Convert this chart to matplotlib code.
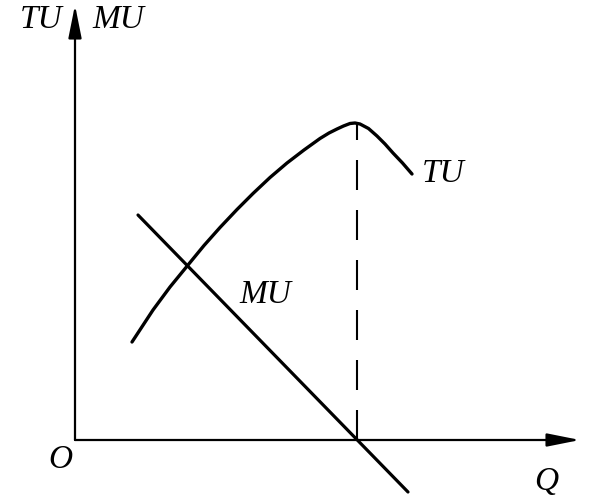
import matplotlib
matplotlib.use("Agg")
import matplotlib.pyplot as plt

# total utility curve (Q, TU)
tu_q = [1.14, 1.56, 1.90, 2.26, 2.58, 2.90, 3.24, 3.56, 3.90, 4.24, 4.58, 4.90, 5.08, 5.24, 5.37, 5.50, 5.60, 5.70, 5.87, 6.04, 6.20, 6.36, 6.55, 6.74]
tu_v = [1.96, 2.60, 3.06, 3.50, 3.89, 4.25, 4.61, 4.93, 5.25, 5.54, 5.80, 6.03, 6.14, 6.22, 6.28, 6.33, 6.34, 6.32, 6.23, 6.08, 5.92, 5.74, 5.54, 5.32]

# marginal utility line end points
mu_q = [1.26, 6.66]
mu_v = [4.50, -1.04]

# point where MU = 0 and TU is at its max
q_star = 5.64
tu_max = 6.33

q_max = 10.1
v_max = 8.7

font = dict(family="Liberation Serif", style="italic", size=24)

fig = plt.figure(figsize=(6, 4.99), dpi=100)
ax = fig.add_axes([0, 0, 1, 1])
ax.set_xlim(-1.5, 10.5)
ax.set_ylim(-1.18, 8.8)
ax.axis("off")

# axes with arrows
arrow = dict(arrowstyle="-|>,head_length=2.0,head_width=0.4", color="black",
             lw=1.6, mutation_scale=10, shrinkA=0, shrinkB=0)
ax.annotate("", xy=(0, v_max), xytext=(0, 0), arrowprops=arrow)
ax.annotate("", xy=(q_max, 0), xytext=(0, 0), arrowprops=arrow)

# curves
ax.plot(tu_q, tu_v, color="black", lw=2.4, solid_capstyle="round",
        solid_joinstyle="round")
ax.plot(mu_q, mu_v, color="black", lw=2.3, solid_capstyle="round")
ax.plot([q_star, q_star], [0, tu_max], color="black", lw=1.5,
        linestyle=(0, (14.4, 9.6)))

# labels
ax.text(-0.68, 8.4, "TU", ha="center", va="center", **font)
ax.text(0.86, 8.4, "MU", ha="center", va="center", **font)
ax.text(-0.3, -0.4, "O", ha="center", va="center", **font)
ax.text(9.42, -0.84, "Q", ha="center", va="center", **font)
ax.text(7.36, 5.32, "TU", ha="center", va="center", **font)
ax.text(3.8, 2.9, "MU", ha="center", va="center", **font)

fig.savefig("out.png", dpi=100, facecolor="white")
